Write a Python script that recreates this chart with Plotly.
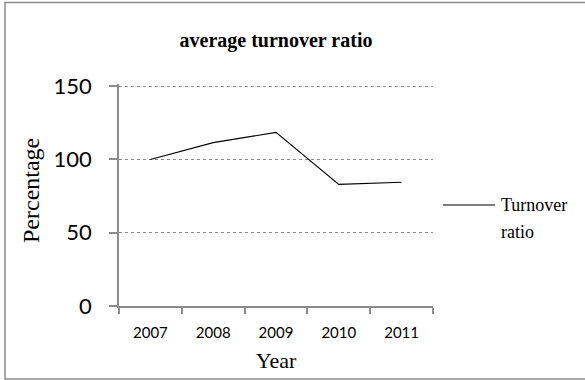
import plotly.graph_objects as go

# Chart data
years = ["2007", "2008", "2009", "2010", "2011"]
turnover_ratio = [100, 111.5, 118.5, 83, 84.5]
series_name = ["Turnover", "ratio"]
y_ticks = [0, 50, 100, 150]
y_top = 151.5  # a little headroom so the 150 gridline is drawn

W, H = 585, 380
L, R, B = 119, 152, 74
PX_PER_UNIT = 220 / 150
ph = round(y_top * PX_PER_UNIT)
T = H - B - ph
pw = W - L - R


def px_x(x):
    return (x - L) / pw


def px_y(y):
    return (H - B - y) / ph


serif = "Liberation Serif, Times New Roman, serif"
sans = "Lato, Carlito, Calibri, sans-serif"

fig = go.Figure()
fig.add_trace(go.Scatter(
    x=years, y=turnover_ratio, mode="lines",
    name=" ".join(series_name),
    line=dict(color="black", width=1.1),
    showlegend=False,
))

fig.update_layout(
    width=W, height=H,
    margin=dict(l=L, r=R, t=T, b=B, autoexpand=False),
    paper_bgcolor="white", plot_bgcolor="white",
    title=dict(
        text="<b>average turnover ratio</b>",
        font=dict(family=serif, size=20, color="black"),
        x=0.5, xref="paper", xanchor="center",
        y=1 - 40 / H, yref="container", yanchor="middle",
    ),
    xaxis=dict(
        type="category",
        automargin=False,
        range=[-0.5, len(years) - 0.5],
        tickson="boundaries",
        ticks="outside", ticklen=6, tickcolor="#8c8c8c", tickwidth=1.5,
        showline=True, linecolor="#8c8c8c", linewidth=1.5,
        showgrid=False,
        tickfont=dict(family=sans, size=15, color="black"),
        ticklabelstandoff=12,
        title=dict(text="Year", font=dict(family=serif, size=22, color="black"), standoff=13),
    ),
    yaxis=dict(
        automargin=False,
        range=[0, y_top], tickvals=y_ticks,
        ticks="outside", ticklen=8, tickcolor="#8c8c8c", tickwidth=1.5,
        showline=True, linecolor="#8c8c8c", linewidth=1.5,
        showgrid=True, gridcolor="#8c8c8c", griddash="dot", gridwidth=1.3,
        zeroline=False,
        tickfont=dict(family=sans, size=22, color="black"),
        ticklabelstandoff=13,
    ),
)

# Y axis title
fig.add_annotation(
    text="Percentage", xref="paper", yref="paper",
    x=px_x(31), y=px_y(191), xanchor="center", yanchor="middle",
    textangle=-90, showarrow=False,
    font=dict(family=serif, size=24, color="black"),
)

# Outer chart border
fig.add_shape(
    type="rect", xref="paper", yref="paper",
    x0=px_x(5), x1=px_x(W + 5), y0=px_y(379), y1=px_y(2.5),
    line=dict(color="#8c8c8c", width=1.5), fillcolor="rgba(0,0,0,0)",
)

# Legend key
fig.add_shape(
    type="line", xref="paper", yref="paper",
    x0=px_x(443), x1=px_x(495), y0=px_y(205), y1=px_y(205),
    line=dict(color="black", width=1.2),
)
for i, word in enumerate(series_name):
    fig.add_annotation(
        text=word, xref="paper", yref="paper",
        x=px_x(499), y=px_y(205 + 27 * i),
        xanchor="left", yanchor="middle", showarrow=False,
        font=dict(family=serif, size=18, color="black"),
    )

fig.write_html("out.html")
